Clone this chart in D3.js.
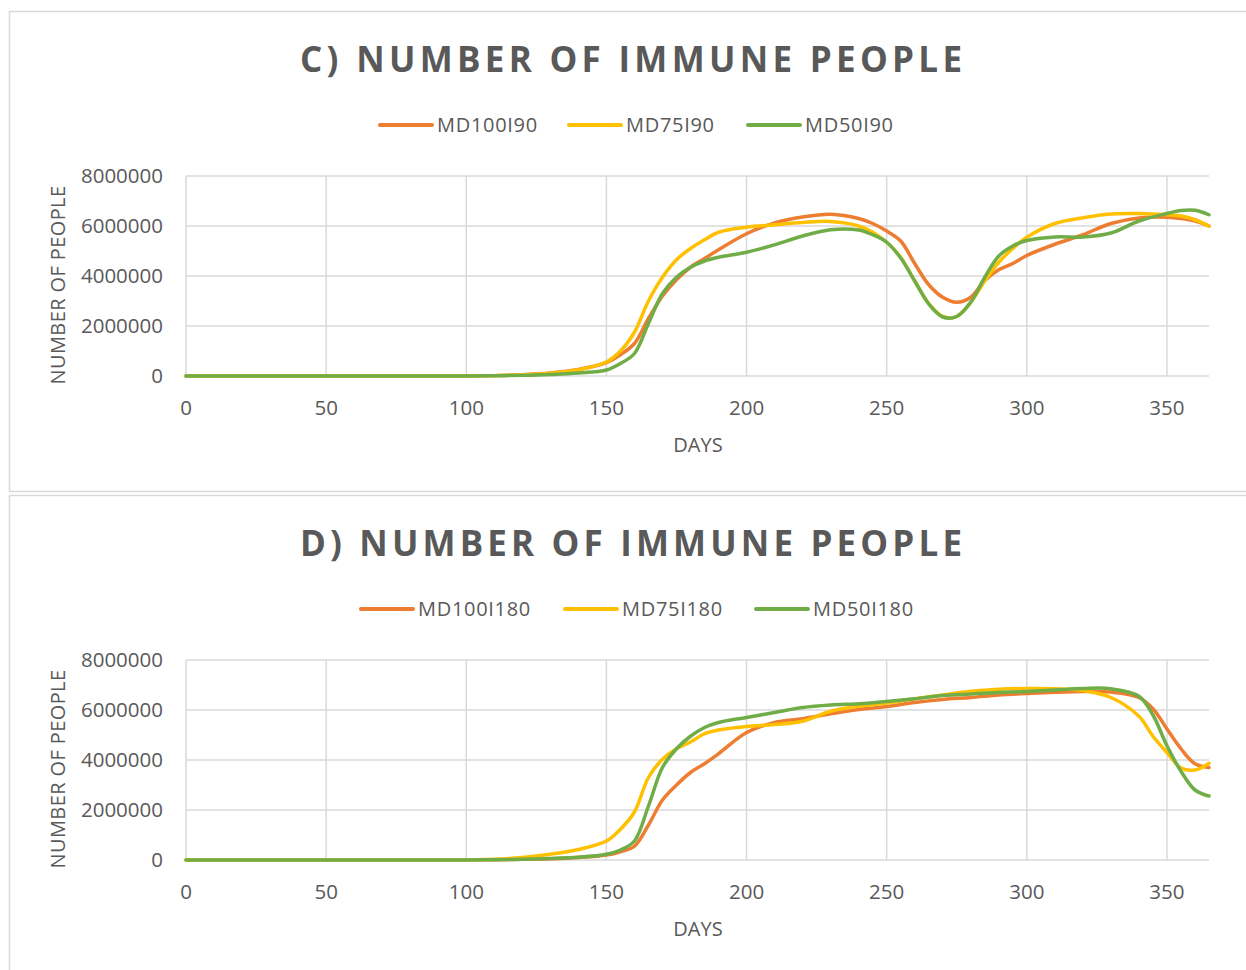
<!DOCTYPE html>
<html>
<head>
<meta charset="utf-8">
<script src="https://cdn.jsdelivr.net/npm/d3@7"></script>
<style>
  body { margin: 0; background: #fff; }
  text { font-family: "Open Sans", "DejaVu Sans", sans-serif; fill: #595959; }
</style>
</head>
<body>
<div id="chart"></div>
<script>
// chart C: immunity lasting 90 days
var daysC = [0, 50, 100, 110, 120, 130, 140, 150, 155, 160, 165, 170, 175, 180, 185, 190,
    200, 210, 220, 230, 240, 245, 250, 255, 260, 265, 270, 275, 280, 285, 290, 295,
    300, 310, 320, 330, 340, 350, 355, 360, 365];
var md100_90 = [0, 0, 5e3, 15e3, 50e3, 120e3, 260e3, 540e3, 850e3, 1.3e6, 2.3e6, 3.2e6, 3.85e6, 4.35e6, 4.7e6, 5.05e6,
    5.69e6, 6.12e6, 6.36e6, 6.47e6, 6.3e6, 6.1e6, 5.8e6, 5.4e6, 4.5e6, 3.65e6, 3.15e6, 2.95e6, 3.15e6, 3.82e6, 4.25e6, 4.5e6,
    4.82e6, 5.27e6, 5.65e6, 6.1e6, 6.32e6, 6.35e6, 6.3e6, 6.2e6, 6.0e6];
var md75_90 = [0, 0, 5e3, 15e3, 45e3, 110e3, 250e3, 560e3, 1.0e6, 1.75e6, 3.0e6, 3.95e6, 4.65e6, 5.1e6, 5.45e6, 5.75e6,
    5.95e6, 6.05e6, 6.14e6, 6.18e6, 6.0e6, 5.75e6, 5.35e6, 4.75e6, 3.8e6, 2.9e6, 2.38e6, 2.38e6, 2.95e6, 3.8e6, 4.55e6, 5.1e6,
    5.55e6, 6.1e6, 6.33e6, 6.48e6, 6.5e6, 6.45e6, 6.4e6, 6.25e6, 5.99e6];
var md50_90 = [0, 0, 3e3, 8e3, 25e3, 60e3, 120e3, 240e3, 500e3, 900e3, 2.1e6, 3.3e6, 3.95e6, 4.35e6, 4.6e6, 4.75e6,
    4.95e6, 5.25e6, 5.6e6, 5.85e6, 5.84e6, 5.65e6, 5.35e6, 4.72e6, 3.8e6, 2.88e6, 2.36e6, 2.38e6, 2.95e6, 3.95e6, 4.8e6, 5.2e6,
    5.42e6, 5.56e6, 5.56e6, 5.72e6, 6.2e6, 6.5e6, 6.62e6, 6.63e6, 6.45e6];

// chart D: immunity lasting 180 days
var daysD = [0, 50, 100, 110, 120, 130, 140, 150, 155, 160, 165, 170, 175, 180, 185, 190,
    200, 210, 220, 230, 240, 250, 260, 270, 280, 290, 300, 310, 320, 330, 340, 345, 350, 355, 360, 365];
var md100_180 = [0, 0, 2e3, 8e3, 25e3, 50e3, 100e3, 200e3, 330e3, 550e3, 1.4e6, 2.4e6, 3.0e6, 3.5e6, 3.85e6, 4.25e6,
    5.1e6, 5.5e6, 5.65e6, 5.85e6, 6.02e6, 6.14e6, 6.3e6, 6.42e6, 6.5e6, 6.6e6, 6.66e6, 6.71e6, 6.74e6, 6.72e6, 6.5e6, 6.05e6,
    5.24e6, 4.45e6, 3.85e6, 3.7e6];
var md75_180 = [0, 0, 5e3, 30e3, 100e3, 230e3, 420e3, 760e3, 1.23e6, 1.92e6, 3.3e6, 4.03e6, 4.45e6, 4.72e6, 5.05e6, 5.2e6,
    5.34e6, 5.42e6, 5.55e6, 5.95e6, 6.15e6, 6.28e6, 6.45e6, 6.6e6, 6.75e6, 6.83e6, 6.86e6, 6.85e6, 6.78e6, 6.5e6, 5.75e6, 4.95e6,
    4.3e6, 3.68e6, 3.6e6, 3.87e6];
var md50_180 = [0, 0, 3e3, 10e3, 30e3, 60e3, 110e3, 230e3, 400e3, 760e3, 2.16e6, 3.7e6, 4.45e6, 4.95e6, 5.3e6, 5.5e6,
    5.7e6, 5.9e6, 6.1e6, 6.2e6, 6.25e6, 6.34e6, 6.45e6, 6.58e6, 6.64e6, 6.7e6, 6.74e6, 6.8e6, 6.86e6, 6.85e6, 6.55e6, 5.8e6,
    4.57e6, 3.55e6, 2.8e6, 2.56e6];

var xTicks = [0, 50, 100, 150, 200, 250, 300, 350];
var yTicks = [0, 2000000, 4000000, 6000000, 8000000];

var colors = ["#ED7D31", "#FFC000", "#70AD47"];

var svgWidth = 1246;
var svgHeight = 970;

var svg = d3.select("#chart").append("svg")
    .attr("width", svgWidth)
    .attr("height", svgHeight);

var x_scale = d3.scaleLinear().domain([0, 365]).range([186, 1209]);

function draw_panel(top, title, names, series, days, legendX) {

    var panel = svg.append("g").attr("transform", `translate(0, ${top})`);

    panel.append("rect")
        .attr("x", 9.5).attr("y", 0.5)
        .attr("width", 1260).attr("height", 480)
        .attr("fill", "#fff")
        .attr("stroke", "#d9d9d9")
        .attr("stroke-width", 1.5);

    panel.append("text")
        .attr("x", 631).attr("y", 61)
        .attr("text-anchor", "middle")
        .attr("font-size", "35px")
        .attr("font-weight", "bold")
        .attr("textLength", 662)
        .attr("lengthAdjust", "spacing")
        .text(title);

    var y_scale = d3.scaleLinear().domain([0, 8000000]).range([365, 165]);

    // gridlines
    panel.append("g").selectAll("line.h")
        .data(yTicks).enter().append("line")
        .attr("x1", x_scale(0)).attr("x2", x_scale(365))
        .attr("y1", d => y_scale(d)).attr("y2", d => y_scale(d))
        .attr("stroke", "#d9d9d9").attr("stroke-width", 1.5);

    panel.append("g").selectAll("line.v")
        .data(xTicks).enter().append("line")
        .attr("x1", d => x_scale(d)).attr("x2", d => x_scale(d))
        .attr("y1", y_scale(8000000)).attr("y2", y_scale(0))
        .attr("stroke", "#d9d9d9").attr("stroke-width", 1.5);

    // tick labels
    panel.append("g").selectAll("text")
        .data(yTicks).enter().append("text")
        .attr("x", 163)
        .attr("y", d => y_scale(d) + 7)
        .attr("text-anchor", "end")
        .attr("font-size", "20.5px")
        .text(d => d);

    panel.append("g").selectAll("text")
        .data(xTicks).enter().append("text")
        .attr("x", d => x_scale(d))
        .attr("y", 404)
        .attr("text-anchor", "middle")
        .attr("font-size", "20.5px")
        .text(d => d);

    panel.append("text")
        .attr("x", 698).attr("y", 441)
        .attr("text-anchor", "middle")
        .attr("font-size", "20px")
        .text("DAYS");

    panel.append("text")
        .attr("transform", `translate(65, ${y_scale(4000000) + 9}) rotate(-90)`)
        .attr("text-anchor", "middle")
        .attr("font-size", "20px")
        .attr("letter-spacing", "0.4px")
        .text("NUMBER OF PEOPLE");

    // lines
    var line = d3.line()
        .x((d, i) => x_scale(days[i]))
        .y(d => y_scale(d))
        .curve(d3.curveCatmullRom.alpha(0.5));

    series.forEach(function (values, i) {
        panel.append("path")
            .attr("d", line(values))
            .attr("fill", "none")
            .attr("stroke", colors[i])
            .attr("stroke-width", 3.5)
            .attr("stroke-linejoin", "round")
            .attr("stroke-linecap", "round");
    });

    // legend
    names.forEach(function (name, i) {
        var lx = legendX[i];
        panel.append("line")
            .attr("x1", lx).attr("x2", lx + 52)
            .attr("y1", 114).attr("y2", 114)
            .attr("stroke", colors[i])
            .attr("stroke-width", 4)
            .attr("stroke-linecap", "round");
        panel.append("text")
            .attr("x", lx + 57).attr("y", 121)
            .attr("font-size", "20px")
            .attr("letter-spacing", "0.7px")
            .text(name);
    });
}

draw_panel(11, "C) NUMBER OF IMMUNE PEOPLE",
    ["MD100I90", "MD75I90", "MD50I90"],
    [md100_90, md75_90, md50_90], daysC, [380, 569, 748]);

draw_panel(495, "D) NUMBER OF IMMUNE PEOPLE",
    ["MD100I180", "MD75I180", "MD50I180"],
    [md100_180, md75_180, md50_180], daysD, [361, 565, 756]);
</script>
</body>
</html>
